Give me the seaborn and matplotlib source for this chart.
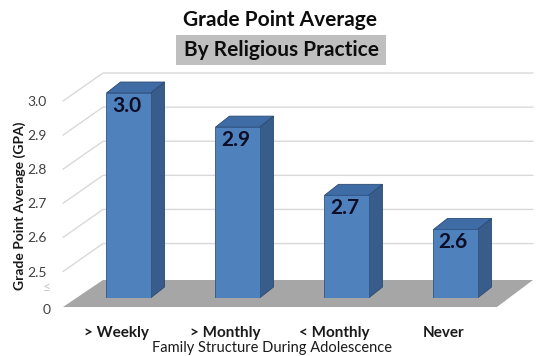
import matplotlib
matplotlib.use("Agg")
import matplotlib.pyplot as plt
import matplotlib.transforms as mtransforms
from matplotlib.patches import Polygon, Rectangle
import seaborn as sns

practice = ["> Weekly", "> Monthly", "< Monthly", "Never"]
gpa = [3.0, 2.9, 2.7, 2.6]
gpa_labels = ["3.0", "2.9", "2.7", "2.6"]
yticks = [2.5, 2.6, 2.7, 2.8, 2.9, 3.0]

W, H = 540, 356
sns.set_theme(style="white")
plt.rcParams["font.family"] = ["Lato", "DejaVu Sans"]

fig = plt.figure(figsize=(W / 100, H / 100), dpi=100)
# axes in image pixels (left, right, top, bottom)
L, R, T, B = 63, 533, 60, 298
ax = fig.add_axes([L / W, (H - B) / H, (R - L) / W, (B - T) / H])

sns.barplot(x=practice, y=gpa, color="#4F81BD", width=0.404, saturation=1,
            edgecolor="#2F5586", linewidth=0.6, ax=ax, zorder=3)
ax.set_xlim(-0.601, 3.711)
ax.set_ylim(2.399, 3.0968)

def px(xp, yp):
    # image pixel -> data coordinates
    return ax.transData.inverted().transform((xp, H - yp))

def dpx(dx, dy):
    x0, y0 = px(0, 0)
    x1, y1 = px(dx, -dy)
    return x1 - x0, y1 - y0

# floor
fl = [px(63, 307), px(103, 280), px(533, 280), px(497, 307)]
ax.add_patch(Polygon(fl, closed=True, facecolor="#A6A6A6", edgecolor="none",
                     zorder=1, clip_on=False))

# back wall gridlines
gx0, _ = px(63, 0)
gx1, _ = px(103, 0)
gx2, _ = px(533, 0)
_, off_tick = dpx(0, -8)
_, off_back = dpx(0, 20)
for v in yticks:
    ax.plot([gx0, gx1, gx2], [v + off_tick, v + off_back, v + off_back],
            color="#D9D9D9", lw=1, zorder=0, clip_on=False)

ddx, ddy = dpx(14, 11)
_, lab_off = dpx(0, -13)
y0 = ax.get_ylim()[0]
for bar, lab in zip(ax.containers[0], gpa_labels):
    x0 = bar.get_x()
    x1 = x0 + bar.get_width()
    y1 = bar.get_height()
    side = [(x1, y0), (x1 + ddx, y0 + ddy), (x1 + ddx, y1 + ddy), (x1, y1)]
    top = [(x0, y1), (x0 + ddx, y1 + ddy), (x1 + ddx, y1 + ddy), (x1, y1)]
    ax.add_patch(Polygon(side, closed=True, facecolor="#385D8A",
                         edgecolor="#2A4A73", lw=0.6, zorder=2))
    ax.add_patch(Polygon(top, closed=True, facecolor="#3F6CA5",
                         edgecolor="#2A4A73", lw=0.6, zorder=2))
    ax.text(x0 + bar.get_width() / 2 - 0.02, y1 + lab_off, lab, ha="center", va="center",
            fontsize=15, fontweight="bold", color="#0D0D26", zorder=4)

for s in ax.spines.values():
    s.set_visible(False)
ax.set_facecolor("none")

ax.set_yticks(yticks)
ax.set_yticklabels([f"{v:.1f}" for v in yticks])
ax.tick_params(axis="y", length=0, pad=12, labelsize=10, labelcolor="#404040")
ax.tick_params(axis="x", length=0, pad=20, labelsize=11, labelcolor="#1A1A1A")
for t in ax.get_yticklabels():
    t.set_transform(t.get_transform() + mtransforms.ScaledTranslation(0, -0.08, fig.dpi_scale_trans))
for t in ax.get_xticklabels():
    t.set_fontweight("bold")
    t.set_transform(t.get_transform() + mtransforms.ScaledTranslation(-0.12, 0, fig.dpi_scale_trans))

# axis break and zero label
fig.text(51 / W, 1 - 288 / H, "≤", ha="right", va="center", fontsize=10, color="#C8C8C8")
fig.text(51 / W, 1 - 310 / H, "0", ha="right", va="center", fontsize=10, color="#404040")

ax.set_xlabel("")
ax.set_ylabel("")
fig.text(272 / W, 1 - 348 / H, "Family Structure During Adolescence", ha="center",
         va="center", fontsize=10.5, color="#1A1A1A")
fig.text(20 / W, 1 - 206 / H, "Grade Point Average (GPA)", ha="center", va="center",
         rotation=90, fontsize=10, fontweight="bold", color="#1A1A1A")

# title
fig.text(280 / W, 1 - 20 / H, "Grade Point Average", ha="center", va="center",
         fontsize=15, fontweight="bold", color="#0D0D0D")
fig.patches.append(Rectangle((176 / W, 1 - 65 / H), 210 / W, 30 / H,
                             transform=fig.transFigure, facecolor="#BFBFBF",
                             edgecolor="none", zorder=0))
fig.text(281 / W, 1 - 50 / H, "By Religious Practice", ha="center", va="center",
         fontsize=15, fontweight="bold", color="#0D0D0D")

fig.savefig("out.png", dpi=100)
